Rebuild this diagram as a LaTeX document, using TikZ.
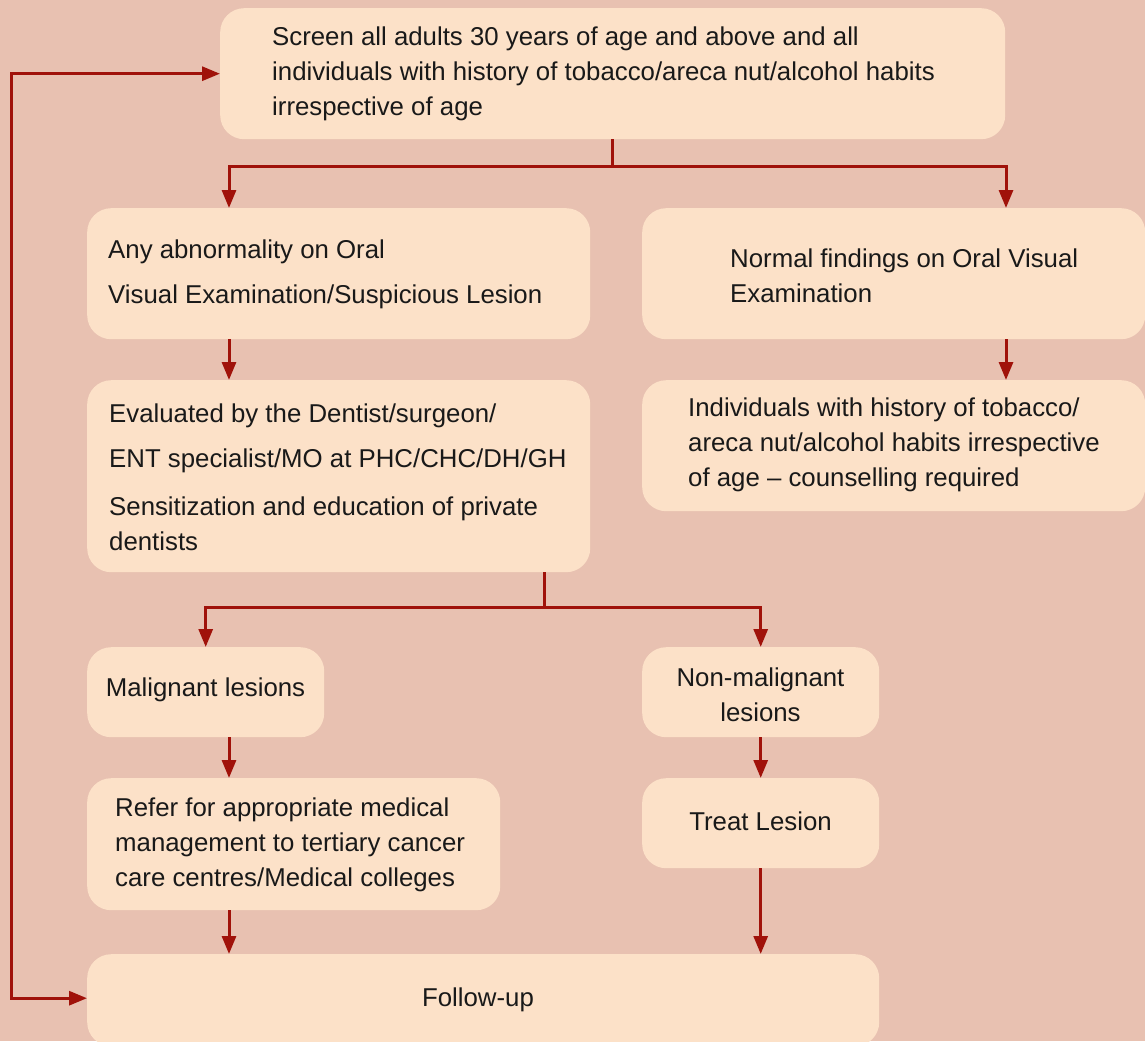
\documentclass[tikz,border=0pt]{standalone}
\usepackage{fontspec}
\setmainfont{Liberation Sans}
\usetikzlibrary{arrows.meta,calc}
\definecolor{bgc}{RGB}{232,193,177}
\definecolor{boxc}{RGB}{252,225,200}
\definecolor{arrc}{RGB}{160,18,10}
\begin{document}
\begin{tikzpicture}[x=1pt,y=-1pt,
  box/.style={fill=boxc,draw=none,rounded corners=24pt,inner sep=0pt,anchor=north west},
  txt/.style={inner sep=0pt,align=left,anchor=west,text=black!90,font=\fontsize{25.8}{35}\selectfont},
  ctxt/.style={txt,align=center,anchor=center},
  conn/.style={draw=arrc,line width=3pt},
  arr/.style={conn,-{Triangle[length=18pt,width=14pt]}},
  darr/.style={conn,{Triangle[length=18pt,width=14pt]}-{Triangle[length=18pt,width=14pt]}}]
\clip (0,0) rectangle (1145,1041);
\fill[bgc] (0,0) rectangle (1145,1041);
% boxes
\node[box,minimum width=785pt,minimum height=131pt] (top) at (220,8) {};
\node[box,minimum width=503pt,minimum height=131pt] (a1) at (87,208) {};
\node[box,minimum width=503pt,minimum height=131pt] (n1) at (642,208) {};
\node[box,minimum width=503pt,minimum height=192pt] (a2) at (87,380) {};
\node[box,minimum width=503pt,minimum height=131pt] (n2) at (642,380) {};
\node[box,minimum width=237pt,minimum height=90pt] (mal) at (87,647) {};
\node[box,minimum width=237pt,minimum height=90pt] (nm) at (642,647) {};
\node[box,minimum width=413pt,minimum height=132pt] (ref) at (87,778) {};
\node[box,minimum width=237pt,minimum height=90pt] (tr) at (642,778) {};
\node[box,minimum width=792pt,minimum height=92pt] (fu) at (87,954) {};
% texts
\node[txt] (ttop) at (272,73.5) {Screen all adults 30 years of age and above and all\\individuals with history of tobacco/areca nut/alcohol habits\\irrespective of age};
\node[txt] (ta1) at (108,274.5) {Any abnormality on Oral\\[10pt]Visual Examination/Suspicious Lesion};
\node[txt] (tn1) at (730,276) {Normal findings on Oral Visual\\Examination};
\node[txt] (ta2) at (109,477) {Evaluated by the Dentist/surgeon/\\[10pt]ENT specialist/MO at PHC/CHC/DH/GH\\[13pt]Sensitization and education of private\\dentists};
\node[txt] (tn2) at (688,444.5) {Individuals with history of tobacco/\\areca nut/alcohol habits irrespective\\of age -- counselling required};
\node[ctxt] (tmal) at (205.5,690) {Malignant lesions};
\node[ctxt] (tnm) at (760.5,694.5) {Non-malignant\\lesions};
\node[txt] (tref) at (115,845) {Refer for appropriate medical\\management to tertiary cancer\\care centres/Medical colleges};
\node[ctxt] (ttr) at (760.5,821) {Treat Lesion};
\node[ctxt] (tfu) at (478,1000) {Follow-up};
% connectors
\draw[arr] (top.south) -- ++(0,27) -| ($(a1.north west)+(142,0)$);
\draw[arr] (top.south) -- ++(0,27) -| ($(n1.north west)+(364,0)$);
\draw[arr] ($(a1.south west)+(142,0)$) -- ($(a2.north west)+(142,0)$);
\draw[arr] ($(n1.south west)+(364,0)$) -- ($(n2.north west)+(364,0)$);
\draw[arr] ($(a2.south west)+(457,0)$) -- ++(0,35) -| (mal.north);
\draw[arr] ($(a2.south west)+(457,0)$) -- ++(0,35) -| (nm.north);
\draw[arr] ($(mal.south west)+(142,0)$) -- ($(ref.north west)+(142,0)$);
\draw[arr] (nm.south) -- (tr.north);
\draw[arr] ($(ref.south west)+(142,0)$) -- ($(fu.north west)+(142,0)$);
\draw[arr] (tr.south) -- (tr.south |- fu.north);
\draw[darr] ($(fu.west)+(0,-2)$) -- ++(-76,0) |- (top.west);
\end{tikzpicture}
\end{document}
